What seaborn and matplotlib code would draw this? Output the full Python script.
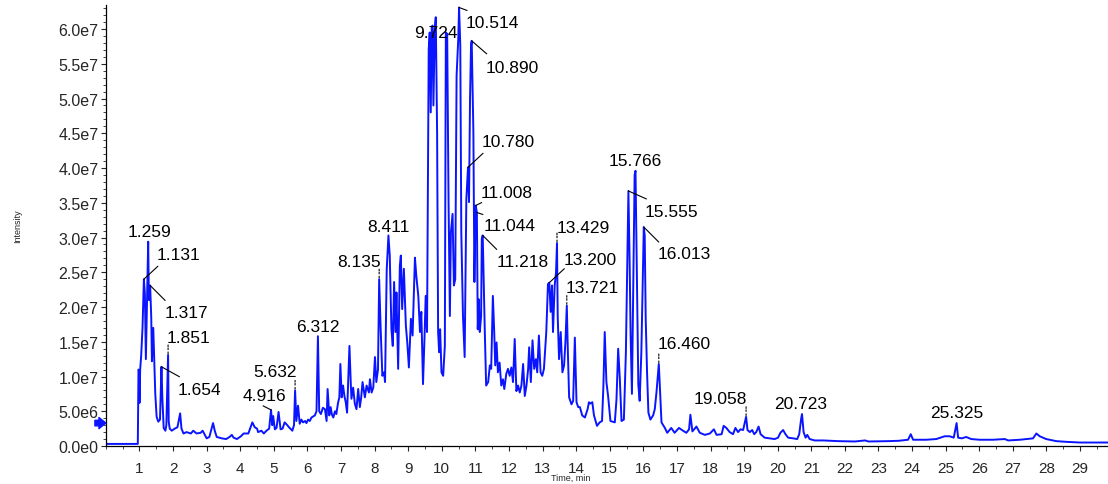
"""
tic_chromatogram.py

Total ion chromatogram with labelled retention times.
"""

import matplotlib

matplotlib.use("Agg")

import matplotlib.pyplot as plt
import numpy as np
import pandas as pd
import seaborn as sns
from matplotlib.ticker import FixedLocator, MultipleLocator

# retention time (min) and intensity (x1e7)
rt_min = [
    0.00, 0.95, 0.97, 0.99, 1.00, 1.02, 1.05, 1.09, 1.131, 1.16, 1.19, 1.259,
    1.28, 1.317, 1.35, 1.37, 1.41, 1.44, 1.47, 1.51, 1.56, 1.61, 1.654, 1.68,
    1.72, 1.77, 1.80, 1.851, 1.87, 1.90, 1.96, 2.05, 2.13, 2.21, 2.25, 2.31,
    2.40, 2.53, 2.60, 2.70, 2.82, 2.88, 3.00, 3.08, 3.19, 3.24, 3.30, 3.45,
    3.58, 3.68, 3.75, 3.80, 3.90, 4.02, 4.10, 4.24, 4.36, 4.43, 4.50, 4.53,
    4.63, 4.70, 4.78, 4.86, 4.916, 4.95, 4.98, 5.03, 5.08, 5.14, 5.20, 5.26,
    5.32, 5.40, 5.45, 5.55, 5.60, 5.632, 5.67, 5.72, 5.77, 5.82, 5.87, 5.93,
    5.97, 6.02, 6.07, 6.12, 6.22, 6.27, 6.312, 6.35, 6.40, 6.46, 6.52, 6.57,
    6.60, 6.65, 6.69, 6.73, 6.77, 6.82, 6.86, 6.91, 6.95, 6.98, 7.02, 7.06,
    7.10, 7.14, 7.18, 7.25, 7.29, 7.31, 7.36, 7.41, 7.46, 7.51, 7.56, 7.60,
    7.64, 7.71, 7.76, 7.83, 7.86, 7.91, 7.96, 8.01, 8.05, 8.10, 8.135, 8.18,
    8.23, 8.28, 8.31, 8.36, 8.411, 8.45, 8.50, 8.54, 8.58, 8.62, 8.65, 8.70,
    8.75, 8.78, 8.82, 8.87, 8.93, 8.97, 9.02, 9.08, 9.13, 9.20, 9.24, 9.30,
    9.35, 9.39, 9.44, 9.49, 9.52, 9.56, 9.61, 9.64, 9.67, 9.70, 9.724, 9.75,
    9.79, 9.82, 9.86, 9.89, 9.92, 9.95, 9.99, 10.04, 10.09, 10.12, 10.16,
    10.20, 10.24, 10.27, 10.32, 10.36, 10.40, 10.44, 10.49, 10.514, 10.55,
    10.58, 10.63, 10.68, 10.73, 10.78, 10.81, 10.84, 10.87, 10.89, 10.94,
    10.97, 11.008, 11.044, 11.07, 11.10, 11.13, 11.17, 11.19, 11.218, 11.28,
    11.32, 11.38, 11.43, 11.47, 11.52, 11.56, 11.59, 11.63, 11.67, 11.72,
    11.77, 11.82, 11.86, 11.92, 11.97, 12.02, 12.07, 12.12, 12.17, 12.22,
    12.27, 12.32, 12.37, 12.42, 12.47, 12.52, 12.57, 12.60, 12.65, 12.70,
    12.75, 12.80, 12.84, 12.89, 12.94, 12.99, 13.04, 13.11, 13.16, 13.200,
    13.24, 13.28, 13.31, 13.36, 13.40, 13.429, 13.45, 13.49, 13.54, 13.59,
    13.64, 13.68, 13.721, 13.75, 13.79, 13.86, 13.91, 13.96, 14.01, 14.06,
    14.11, 14.18, 14.26, 14.34, 14.38, 14.42, 14.48, 14.53, 14.62, 14.70,
    14.77, 14.81, 14.85, 14.90, 14.95, 15.02, 15.15, 15.20, 15.25, 15.30,
    15.35, 15.42, 15.48, 15.555, 15.59, 15.62, 15.66, 15.71, 15.74, 15.766,
    15.81, 15.85, 15.89, 15.94, 16.013, 16.04, 16.07, 16.11, 16.15, 16.21,
    16.29, 16.34, 16.39, 16.460, 16.50, 16.54, 16.64, 16.71, 16.83, 16.93,
    17.06, 17.18, 17.28, 17.36, 17.40, 17.46, 17.58, 17.68, 17.83, 17.98,
    18.10, 18.18, 18.33, 18.39, 18.47, 18.57, 18.67, 18.74, 18.82, 18.89,
    18.97, 19.058, 19.10, 19.17, 19.24, 19.30, 19.36, 19.43, 19.49, 19.61,
    19.76, 19.91, 20.01, 20.08, 20.16, 20.23, 20.31, 20.46, 20.58, 20.64,
    20.70, 20.723, 20.77, 20.83, 20.88, 20.95, 21.10, 21.35, 21.80, 22.30,
    22.60, 22.70, 23.30, 23.60, 23.88, 23.96, 24.03, 24.42, 24.72, 24.97,
    25.12, 25.24, 25.325, 25.37, 25.48, 25.61, 25.76, 26.01, 26.41, 26.76,
    26.86, 27.21, 27.60, 27.70, 27.80, 27.99, 28.29, 28.59, 28.99, 29.85,
]

intensity_e7 = [
    0.03, 0.03, 1.10, 1.08, 0.62, 1.10, 1.30, 1.70, 2.40, 2.20, 1.25, 2.94,
    2.10, 2.31, 1.85, 1.22, 1.70, 1.20, 0.75, 0.42, 0.35, 0.38, 1.14, 0.70,
    0.26, 0.22, 0.30, 1.31, 0.35, 0.25, 0.22, 0.25, 0.27, 0.47, 0.25, 0.18,
    0.20, 0.18, 0.22, 0.18, 0.19, 0.22, 0.11, 0.13, 0.33, 0.22, 0.13, 0.11,
    0.10, 0.13, 0.16, 0.12, 0.10, 0.14, 0.18, 0.18, 0.34, 0.27, 0.25, 0.20,
    0.22, 0.18, 0.22, 0.25, 0.52, 0.30, 0.43, 0.24, 0.26, 0.49, 0.24, 0.25,
    0.34, 0.30, 0.27, 0.22, 0.30, 0.80, 0.36, 0.58, 0.32, 0.38, 0.34, 0.36,
    0.33, 0.38, 0.36, 0.41, 0.44, 0.50, 1.58, 0.50, 0.46, 0.55, 0.53, 0.36,
    0.82, 0.44, 0.56, 0.45, 0.41, 0.50, 0.46, 0.62, 0.70, 1.18, 0.70, 0.87,
    0.72, 0.63, 0.48, 1.44, 0.90, 0.68, 0.84, 0.61, 0.53, 0.82, 0.56, 0.70,
    0.92, 0.70, 0.87, 0.77, 0.96, 0.77, 0.84, 1.28, 0.92, 1.10, 2.40, 1.68,
    1.01, 1.06, 0.92, 2.54, 3.03, 2.74, 1.68, 1.44, 2.36, 1.64, 2.21, 1.11,
    2.59, 2.74, 1.97, 2.55, 1.73, 1.50, 1.13, 1.83, 1.59, 2.71, 2.45, 2.16,
    1.64, 1.93, 0.89, 1.64, 2.16, 1.64, 5.71, 5.95, 4.80, 6.02, 6.05, 4.90,
    6.00, 6.17, 4.51, 1.64, 1.35, 1.68, 1.06, 1.01, 1.44, 5.95, 5.93,
    3.55, 1.87, 3.07, 3.34, 2.31, 2.40, 5.33, 5.86, 6.31, 5.76,
    3.07, 1.87, 1.28, 3.55, 4.01, 3.51, 4.99, 5.77, 5.83, 4.51,
    2.36, 3.46, 3.36, 1.68, 2.11, 1.64, 1.87, 2.98, 3.03, 1.64,
    0.87, 0.92, 1.16, 1.11, 2.16, 1.64, 1.16, 1.49, 1.06, 1.20,
    0.87, 0.96, 0.82, 1.04, 1.11, 1.01, 1.13, 0.92, 1.54, 0.79,
    0.87, 0.77, 0.87, 1.18, 0.72, 0.87, 1.11, 1.42, 0.92, 1.52,
    1.11, 1.25, 1.06, 1.59, 1.06, 1.01, 1.11, 1.64, 2.33, 2.35,
    1.93, 2.31, 1.64, 2.31, 2.50, 2.92, 1.87, 1.25, 1.64, 1.06,
    1.16, 1.50, 2.02, 1.40, 0.70, 0.60, 0.65, 1.56, 0.63, 0.56,
    0.56, 0.44, 0.41, 0.53, 0.63, 0.61, 0.63, 0.44, 0.29, 0.34,
    0.36, 0.86, 1.64, 0.92, 0.72, 0.36, 0.34, 0.67, 1.40, 0.96,
    0.36, 0.38, 1.35, 3.67, 2.69, 1.61, 0.75, 2.78, 3.90, 3.96,
    2.31, 0.88, 0.65, 1.35, 3.15, 3.03, 1.83, 1.06, 0.48, 0.38,
    0.44, 0.53, 0.77, 1.18, 0.77, 0.34, 0.26, 0.19, 0.26, 0.19,
    0.26, 0.22, 0.19, 0.24, 0.45, 0.21, 0.28, 0.19, 0.16, 0.18,
    0.24, 0.16, 0.17, 0.29, 0.26, 0.20, 0.17, 0.26, 0.20, 0.24,
    0.23, 0.42, 0.23, 0.20, 0.23, 0.17, 0.20, 0.28, 0.17, 0.12,
    0.11, 0.10, 0.12, 0.19, 0.23, 0.17, 0.12, 0.11, 0.10, 0.17,
    0.40, 0.46, 0.20, 0.12, 0.16, 0.10, 0.08, 0.08, 0.07, 0.065,
    0.08, 0.065, 0.07, 0.075, 0.09, 0.17, 0.09, 0.09, 0.10, 0.14,
    0.14, 0.12, 0.33, 0.12, 0.11, 0.13, 0.10, 0.09, 0.09, 0.10,
    0.08, 0.09, 0.11, 0.18, 0.14, 0.10, 0.07, 0.06, 0.05, 0.05,
]

peak_labels = [
    "1.131", "1.259", "1.317", "1.654", "1.851", "4.916", "5.632", "6.312",
    "8.135", "8.411", "9.724", "10.514", "10.780", "10.890", "11.008",
    "11.044", "11.218", "13.200", "13.429", "13.721", "15.555", "15.766",
    "16.013", "16.460", "19.058", "20.723", "25.325",
]

x_tick_values = list(range(1, 30))
y_tick_values_e7 = [0.0, 0.5, 1.0, 1.5, 2.0, 2.5, 3.0, 3.5, 4.0, 4.5, 5.0, 5.5, 6.0]
y_tick_labels = [
    "0.0e0", "5.0e6", "1.0e7", "1.5e7", "2.0e7", "2.5e7", "3.0e7",
    "3.5e7", "4.0e7", "4.5e7", "5.0e7", "5.5e7", "6.0e7",
]
marker_level = 3.3e6

# label placement: text centre offset (px) and connector kind / end offset
label_layout = {
    "1.131": (35, 26, (14, 13)),
    "1.259": (1, 12, None),
    "1.317": (36, -26, (15, -15)),
    "1.654": (38, -21, (18, -10)),
    "1.851": (20, 19, "tick"),
    "4.916": (-7, 16, (-8, 4)),
    "5.632": (-20, 20, "tick"),
    "6.312": (0, 11, None),
    "8.135": (-20, 19, "tick"),
    "8.411": (0, 10, None),
    "9.724": (3, -5, None),
    "10.514": (33, -14, (8, -3)),
    "10.780": (40, 27, (15, 14)),
    "10.890": (41, -25, (15, -13)),
    "11.008": (31, 15, (6, 3)),
    "11.044": (33, -12, (6, -2)),
    "11.218": (40, -25, (14, -14)),
    "13.200": (41, 25, (15, 14)),
    "13.429": (26, 17, "tick"),
    "13.721": (25, 20, "tick"),
    "15.555": (43, -19, (18, -8)),
    "15.766": (0, 12, None),
    "16.013": (40, -25, (15, -15)),
    "16.460": (25, 22, "tick"),
    "19.058": (-26, 20, "tick"),
    "20.723": (-1, 12, None),
    "25.325": (0, 12, None),
}

LINE_COLOR = "#0a14ff"


def build_trace() -> pd.DataFrame:
    df = pd.DataFrame({"Time": rt_min, "Intensity": intensity_e7})
    df["Intensity"] = df["Intensity"] * 1e7
    return df


def annotate_peaks(ax, df: pd.DataFrame) -> None:
    for label in peak_labels:
        rt = float(label)
        height = np.interp(rt, df["Time"], df["Intensity"])
        dx, dy, conn = label_layout[label]
        ax.annotate(
            label, xy=(rt, height), xytext=(dx, dy - 6),
            textcoords="offset pixels", ha="center", va="baseline",
            fontsize=12.5, color="black", annotation_clip=False,
        )
        if conn == "tick":
            ax.annotate(
                "", xy=(rt, height), xytext=(0, 3), textcoords="offset pixels",
                annotation_clip=False,
                arrowprops=dict(arrowstyle="-", color="black", lw=0.8,
                                linestyle=(0, (1.5, 1.2)), shrinkA=0, shrinkB=0,
                                connectionstyle="arc3"),
            )
            ax.annotate(
                "", xy=(rt, height), xytext=(0, 10), textcoords="offset pixels",
                annotation_clip=False,
                arrowprops=dict(arrowstyle="-", color="black", lw=0.8,
                                linestyle=(0, (1.5, 1.2)), shrinkA=0, shrinkB=3,
                                connectionstyle="arc3"),
            )
        elif conn is not None:
            ax.annotate(
                "", xy=(rt, height), xytext=conn, textcoords="offset pixels",
                annotation_clip=False,
                arrowprops=dict(arrowstyle="-", color="black", lw=0.8,
                                shrinkA=0, shrinkB=0),
            )


def plot_chromatogram(df: pd.DataFrame) -> None:
    sns.set_style("white")
    plt.rcParams["font.family"] = ["Liberation Sans", "DejaVu Sans"]

    fig = plt.figure(figsize=(11.08, 4.85), dpi=100)
    ax = fig.add_axes([105.9 / 1108, 38 / 485, 1002.7 / 1108, 441.3 / 485])

    sns.lineplot(data=df, x="Time", y="Intensity", ax=ax, color=LINE_COLOR,
                 lw=1.4, estimator=None, sort=False)

    ax.set_xlim(0, 29.85)
    ax.set_ylim(0, 6.35e7)

    ax.xaxis.set_major_locator(FixedLocator(x_tick_values))
    ax.set_xticklabels([str(v) for v in x_tick_values])
    ax.xaxis.set_minor_locator(MultipleLocator(0.5))
    ax.yaxis.set_major_locator(FixedLocator([v * 1e7 for v in y_tick_values_e7]))
    ax.set_yticklabels(y_tick_labels)
    ax.yaxis.set_minor_locator(MultipleLocator(1e6))

    ax.tick_params(axis="x", which="major", direction="out", length=3.5,
                   width=0.8, pad=7, labelsize=11)
    ax.tick_params(axis="x", which="minor", direction="out", length=2,
                   width=0.6)
    ax.tick_params(axis="y", which="major", direction="out", length=3.5,
                   width=0.8, pad=2, labelsize=11.5)
    ax.tick_params(axis="y", which="minor", direction="out", length=2,
                   width=0.6)
    ax.tick_params(which="both", bottom=True, left=True, top=False, right=False)

    sns.despine(ax=ax)
    for side in ("left", "bottom"):
        ax.spines[side].set_linewidth(0.9)
        ax.spines[side].set_color("black")

    ax.set_xlabel("Time, min", fontsize=6.5)
    ax.set_ylabel("Intensity", fontsize=6.5)
    ax.xaxis.set_label_coords(0.464, -0.060)
    ax.yaxis.set_label_coords(-0.0837, 0.5)

    annotate_peaks(ax, df)

    # threshold arrow on the intensity axis
    ax.annotate(
        "", xy=(0.0, marker_level), xycoords=ax.get_yaxis_transform(),
        xytext=(-11, 0), textcoords="offset pixels", annotation_clip=False,
        arrowprops=dict(arrowstyle="simple,head_length=0.5,head_width=0.8,tail_width=0.4",
                        color=LINE_COLOR, shrinkA=0, shrinkB=0),
    )

    fig.savefig("out.png", dpi=100)


def main():
    df = build_trace()
    plot_chromatogram(df)


if __name__ == "__main__":
    main()
